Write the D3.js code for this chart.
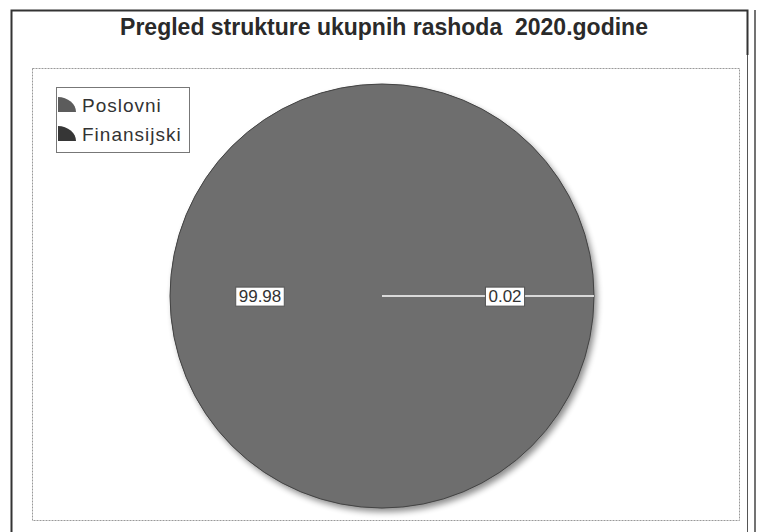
<!DOCTYPE html>
<html>
<head>
<meta charset="utf-8">
<script src="https://cdn.jsdelivr.net/npm/d3@7"></script>
<style>
  body { margin: 0; background: #fff; }
  svg { display: block; font-family: "Liberation Sans", Arial, sans-serif; }
</style>
</head>
<body>
<div id="chart"></div>
<script>
const categories = ["Poslovni", "Finansijski"]
const values = [99.98, 0.02]
const labels = ["99.98", "0.02"]
const colors = ["#6e6e6e", "#636363"]
const legendColors = ["#5c5c5c", "#363636"]
const title = "Pregled strukture ukupnih rashoda\u00a0 2020.godine"

const width = 765, height = 532

const svg = d3.select("#chart")
    .append("svg")
    .attr("width", width)
    .attr("height", height)

// outer frame
svg.append("path")
    .attr("d", "M11.5,532 L11.5,10.5 L747.5,10.5 L747.5,55")
    .attr("fill", "none").attr("stroke", "#333").attr("stroke-width", 2)
svg.append("line")
    .attr("x1", 755).attr("x2", 755).attr("y1", 10).attr("y2", 532)
    .attr("stroke", "#444").attr("stroke-width", 1.5)
svg.append("line")
    .attr("x1", 747.5).attr("x2", 747.5).attr("y1", 55).attr("y2", 532)
    .attr("stroke", "#555").attr("stroke-width", 1)

svg.append("text")
    .attr("x", 384).attr("y", 35)
    .attr("text-anchor", "middle")
    .attr("font-size", 23).attr("font-weight", "bold")
    .attr("fill", "#2a2a2a")
    .text(title)

// plot area
svg.append("rect")
    .attr("x", 32.5).attr("y", 68.5).attr("width", 707).attr("height", 452)
    .attr("fill", "#fff").attr("stroke", "#999").attr("stroke-dasharray", "2,1")

const cx = 382, cy = 296, r = 212

const defs = svg.append("defs")
const f = defs.append("filter").attr("id", "shadow").attr("x", "-10%").attr("y", "-10%").attr("width", "130%").attr("height", "130%")
f.append("feGaussianBlur").attr("in", "SourceAlpha").attr("stdDeviation", 3)
f.append("feOffset").attr("dx", 3).attr("dy", 4).attr("result", "b")
f.append("feComponentTransfer").append("feFuncA").attr("type", "linear").attr("slope", 0.45)
const m = f.append("feMerge")
m.append("feMergeNode")
m.append("feMergeNode").attr("in", "SourceGraphic")

// pie starting at 3 o'clock, going counter-clockwise
const pie = d3.pie().sort(null)
    .startAngle(Math.PI / 2)
    .endAngle(Math.PI / 2 - 2 * Math.PI)
    .value(d => d)
const arcs = pie(values)
const arc = d3.arc().innerRadius(0).outerRadius(r)

const g = svg.append("g").attr("transform", `translate(${cx},${cy})`)
g.append("circle").attr("r", r).attr("fill", colors[0]).attr("filter", "url(#shadow)")
g.selectAll("path.slice")
    .data(arcs)
    .enter()
    .append("path")
    .attr("class", "slice")
    .attr("d", arc)
    .attr("fill", (d, i) => colors[i])
    .attr("stroke", "none")
g.append("circle").attr("r", r).attr("fill", "none").attr("stroke", "#444").attr("stroke-width", 1)

// white boundary line at the start angle
g.append("line")
    .attr("x1", 0).attr("y1", 0)
    .attr("x2", r * Math.sin(Math.PI / 2)).attr("y2", -r * Math.cos(Math.PI / 2))
    .attr("stroke", "#fff").attr("stroke-width", 1.5)

// labels
const labelPos = [[-122, 0], [123, 0]]
labelPos.forEach((p, i) => {
    const lg = g.append("g").attr("transform", `translate(${p[0]},${p[1]})`)
    const t = lg.append("text")
        .attr("text-anchor", "middle").attr("dy", "0.36em")
        .attr("font-size", 17).attr("fill", "#333")
        .text(labels[i])
    const bb = t.node().getBBox()
    lg.insert("rect", "text")
        .attr("x", bb.x - 3).attr("y", bb.y)
        .attr("width", bb.width + 6).attr("height", bb.height)
        .attr("fill", "#fff").attr("stroke", "#555")
})

// legend
const lgd = svg.append("g").attr("transform", "translate(56,87)")
lgd.append("rect").attr("x", 0.5).attr("y", 0.5).attr("width", 133).attr("height", 65)
    .attr("fill", "#fff").attr("stroke", "#777")
const wedge = d3.arc().innerRadius(0).outerRadius(1).startAngle(0).endAngle(Math.PI / 2)
categories.forEach((c, i) => {
    const row = lgd.append("g").attr("transform", `translate(0,${25 + i * 29})`)
    row.append("path").attr("d", wedge).attr("transform", "translate(2,0) scale(18,15)")
        .attr("fill", legendColors[i])
    row.append("text").attr("x", 26).attr("y", 0)
        .attr("font-size", 19).attr("letter-spacing", 1).attr("fill", "#333")
        .text(c)
})
</script>
</body>
</html>
